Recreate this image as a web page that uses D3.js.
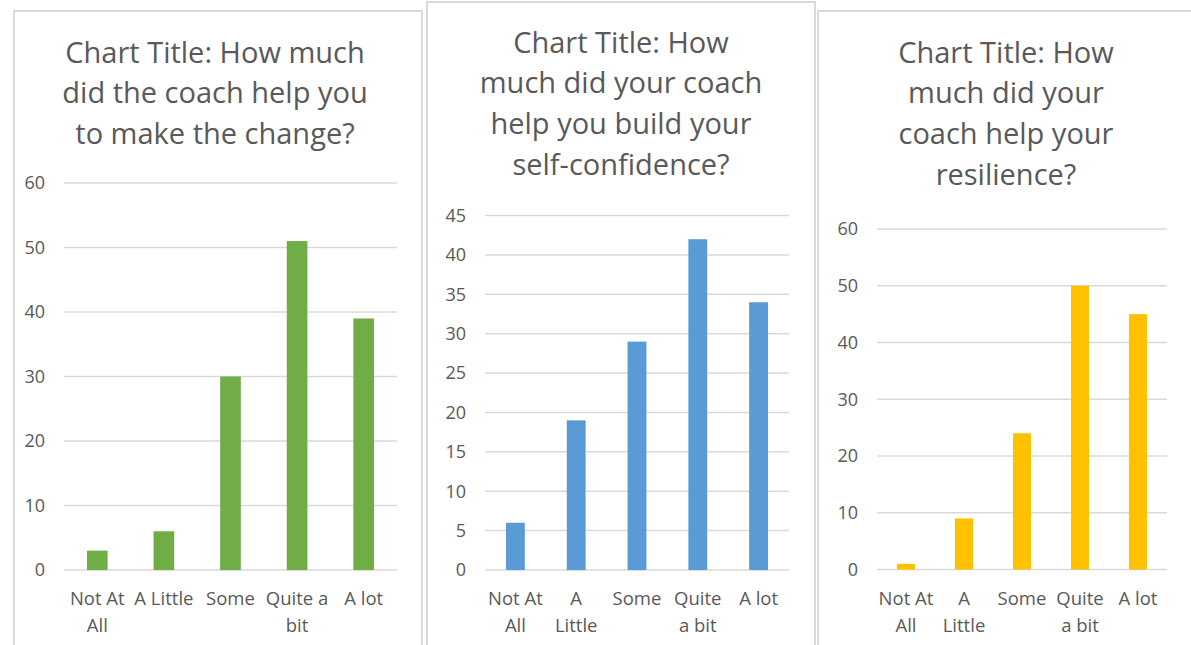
<!DOCTYPE html>
<html>
<head>
<meta charset="utf-8">
<script src="https://cdn.jsdelivr.net/npm/d3@7"></script>
<style>
  html, body { margin: 0; padding: 0; background: #fff; }
  svg { display: block; }
  text { font-family: "Open Sans", "Lato", sans-serif; fill: #595959; }
</style>
</head>
<body>
<svg id="chart" width="1191" height="645"></svg>
<script>
// ---- data ----
const categories = ["Not At All", "A Little", "Some", "Quite a bit", "A lot"];
const changeValues = [3, 6, 30, 51, 39];
const confidenceValues = [6, 19, 29, 42, 34];
const resilienceValues = [1, 9, 24, 50, 45];
const changeTicks = [0, 10, 20, 30, 40, 50, 60];
const confidenceTicks = [0, 5, 10, 15, 20, 25, 30, 35, 40, 45];
const resilienceTicks = [0, 10, 20, 30, 40, 50, 60];
const changeTitle = ["Chart Title: How much", "did the coach help you", "to make the change?"];
const confidenceTitle = ["Chart Title: How", "much did your coach", "help you build your", "self-confidence?"];
const resilienceTitle = ["Chart Title: How", "much did your", "coach help your", "resilience?"];
const changeLabels = [["Not At", "All"], ["A Little"], ["Some"], ["Quite a", "bit"], ["A lot"]];
const confidenceLabels = [["Not At", "All"], ["A", "Little"], ["Some"], ["Quite", "a bit"], ["A lot"]];
const resilienceLabels = [["Not At", "All"], ["A", "Little"], ["Some"], ["Quite", "a bit"], ["A lot"]];

// ---- layout ----
const panels = [
  { box: [14, 11, 422, 660], values: changeValues, ticks: changeTicks, title: changeTitle, labels: changeLabels,
    color: "#70ad47", plot: [64, 397, 183, 570], titleX: 215, titleY: 52 },
  { box: [427, 2, 815, 660], values: confidenceValues, ticks: confidenceTicks, title: confidenceTitle, labels: confidenceLabels,
    color: "#5b9bd5", plot: [485, 789, 215.6, 570], titleX: 621, titleY: 42 },
  { box: [818, 11, 1200, 660], values: resilienceValues, ticks: resilienceTicks, title: resilienceTitle, labels: resilienceLabels,
    color: "#ffc000", plot: [877, 1167, 229, 569.5], titleX: 1006, titleY: 52 }
];

const svg = d3.select("#chart");

panels.forEach(p => {
  const g = svg.append("g");
  const [bx0, by0, bx1, by1] = p.box;
  g.append("rect")
    .attr("x", bx0).attr("y", by0)
    .attr("width", bx1 - bx0).attr("height", by1 - by0)
    .attr("fill", "#fff").attr("stroke", "#d9d9d9").attr("stroke-width", 2);

  const [x0, x1, yTop, yBot] = p.plot;
  const maxTick = p.ticks[p.ticks.length - 1];
  const x = d3.scaleBand().domain(categories).range([x0, x1]).paddingInner(0.69).paddingOuter(0.345);
  const y = d3.scaleLinear().domain([0, maxTick]).range([yBot, yTop]);

  // gridlines
  g.append("g").selectAll("line").data(p.ticks).join("line")
    .attr("x1", x0).attr("x2", x1)
    .attr("y1", d => y(d)).attr("y2", d => y(d))
    .attr("stroke", "#d9d9d9").attr("stroke-width", 1.5);

  // y tick labels
  const yAxis = d3.axisLeft(y).tickValues(p.ticks).tickSize(0).tickPadding(0);
  const ya = g.append("g").attr("transform", `translate(${x0 - 19},0)`).call(yAxis);
  ya.select(".domain").remove();
  ya.selectAll("text").attr("font-size", 18).attr("fill", "#595959")
    .style("font-family", "'Open Sans', sans-serif");

  // bars
  g.append("g").selectAll("rect").data(p.values).join("rect")
    .attr("x", (d, i) => x(categories[i]))
    .attr("width", x.bandwidth())
    .attr("y", d => y(d))
    .attr("height", d => y(0) - y(d))
    .attr("fill", p.color);

  // x labels
  const xl = g.append("g");
  p.labels.forEach((lines, i) => {
    const cx = x(categories[i]) + x.bandwidth() / 2;
    const t = xl.append("text").attr("text-anchor", "middle").attr("font-size", 18.5);
    lines.forEach((ln, j) => {
      t.append("tspan").attr("x", cx).attr("y", 605 + j * 27).text(ln);
    });
  });

  // title
  const tt = g.append("text").attr("text-anchor", "middle").attr("font-size", 29);
  p.title.forEach((ln, j) => {
    tt.append("tspan").attr("x", p.titleX).attr("y", p.titleY + 10.5 + j * 40.7).text(ln);
  });
});
</script>
</body>
</html>
